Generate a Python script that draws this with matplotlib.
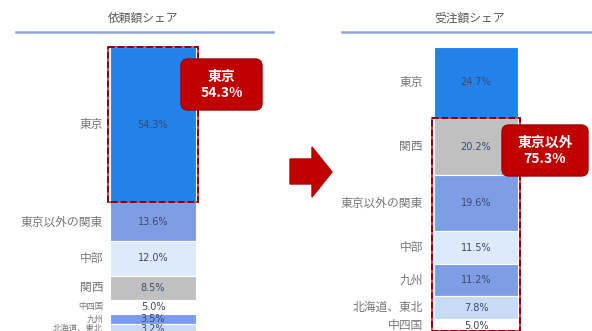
import matplotlib.pyplot as plt
from matplotlib.patches import Rectangle, FancyBboxPatch, Polygon

plt.rcParams['font.family'] = ['Noto Sans CJK JP', 'DejaVu Sans']

# data
left_title = '依頼額シェア'
left_names = ['東京', '東京以外の関東', '中部', '関西', '中四国', '九州', '北海道、東北']
left_vals = [54.3, 13.6, 12.0, 8.5, 5.0, 3.5, 3.2]
left_colors = ['#2281EA', '#7E9DE4', '#DDEAFB', '#C0C0C0', '#FFFFFF', '#7B9BEE', '#C8DBF6']

right_title = '受注額シェア'
right_names = ['東京', '関西', '東京以外の関東', '中部', '九州', '北海道、東北', '中四国']
right_vals = [24.7, 20.2, 19.6, 11.5, 11.2, 7.8, 5.0]
right_colors = ['#2281EA', '#C0C0C0', '#7E9DE4', '#DDEAFB', '#7E9DE4', '#C8DBF6', '#FFFFFF']

W, H = 592, 331


def px(x0, y0, w, h):
    return [x0 / W, 1 - (y0 + h) / H, w / W, h / H]


fig = plt.figure(figsize=(W / 100, H / 100), dpi=100)


def stack(rect, names, vals, colors, gap, small_lim):
    ax = fig.add_axes(rect)
    bottom = 0
    for n, v, c in zip(names, vals, colors):
        ax.bar(0, v, bottom=bottom, width=1, color=c, edgecolor='white', linewidth=0.8)
        mid = bottom + v / 2
        ax.text(0, mid, f'{v:.1f}%', ha='center', va='center', fontsize=7,
                color='#3B4A6B', family='DejaVu Sans')
        fs = 6 if v < small_lim else 8.5
        ax.annotate(n, xy=(-0.5, mid), xytext=(-gap, 0), textcoords='offset points',
                    ha='right', va='center', fontsize=fs, color='#777777',
                    annotation_clip=False)
        bottom += v
    ax.set_xlim(-0.5, 0.5)
    ax.set_ylim(100, 0)
    ax.axis('off')
    return ax


axl = stack(px(110, 47, 86, 286), left_names, left_vals, left_colors, 5, 6)
axr = stack(px(434, 47, 84, 286), right_names, right_vals, right_colors, 8, 0)


def dashed_box(ax, y0, y1):
    for ls, col in [('-', '#E23B3B'), ('--', '#7A0012')]:
        ax.add_patch(Rectangle((-0.52, y0), 1.04, y1 - y0, fill=False, ls=ls,
                               edgecolor=col, linewidth=1.3, clip_on=False, zorder=5))


dashed_box(axl, 0, left_vals[0])
dashed_box(axr, right_vals[0], sum(right_vals) - 0.6)

# overlay for titles, arrow, callouts
ov = fig.add_axes([0, 0, 1, 1], facecolor='none')
ov.set_xlim(0, W)
ov.set_ylim(H, 0)
ov.axis('off')

ov.text(143, 18, left_title, ha='center', va='center', fontsize=8.5, color='#595959')
ov.text(470, 18, right_title, ha='center', va='center', fontsize=8.5, color='#595959')
ov.plot([16, 273], [32, 32], color='#8FA8D8', lw=1.8)
ov.plot([342, 592], [32, 32], color='#8FA8D8', lw=1.8)

ov.add_patch(Polygon([(290, 159), (312, 159), (312, 147), (332, 172),
                      (312, 197), (312, 184), (290, 184)], closed=True,
                     facecolor='#C00000', edgecolor='#B00000'))

ov.add_patch(FancyBboxPatch((181, 59), 81, 51, boxstyle='round,pad=0,rounding_size=7',
                            facecolor='#C00000', edgecolor='#A00000', lw=1, zorder=6))
ov.text(221.5, 85, f'{left_names[0]}\n{left_vals[0]:.1f}%', ha='center', va='center',
        fontsize=10, fontweight='bold', color='white', linespacing=1.15, zorder=7)

other = sum(right_vals[1:])
ov.add_patch(FancyBboxPatch((502, 125), 86, 51, boxstyle='round,pad=0,rounding_size=7',
                            facecolor='#C00000', edgecolor='#A00000', lw=1, zorder=6))
ov.text(545, 151, f'東京以外\n{other:.1f}%', ha='center', va='center',
        fontsize=10, fontweight='bold', color='white', linespacing=1.15, zorder=7)

fig.savefig('out.png', dpi=100)
